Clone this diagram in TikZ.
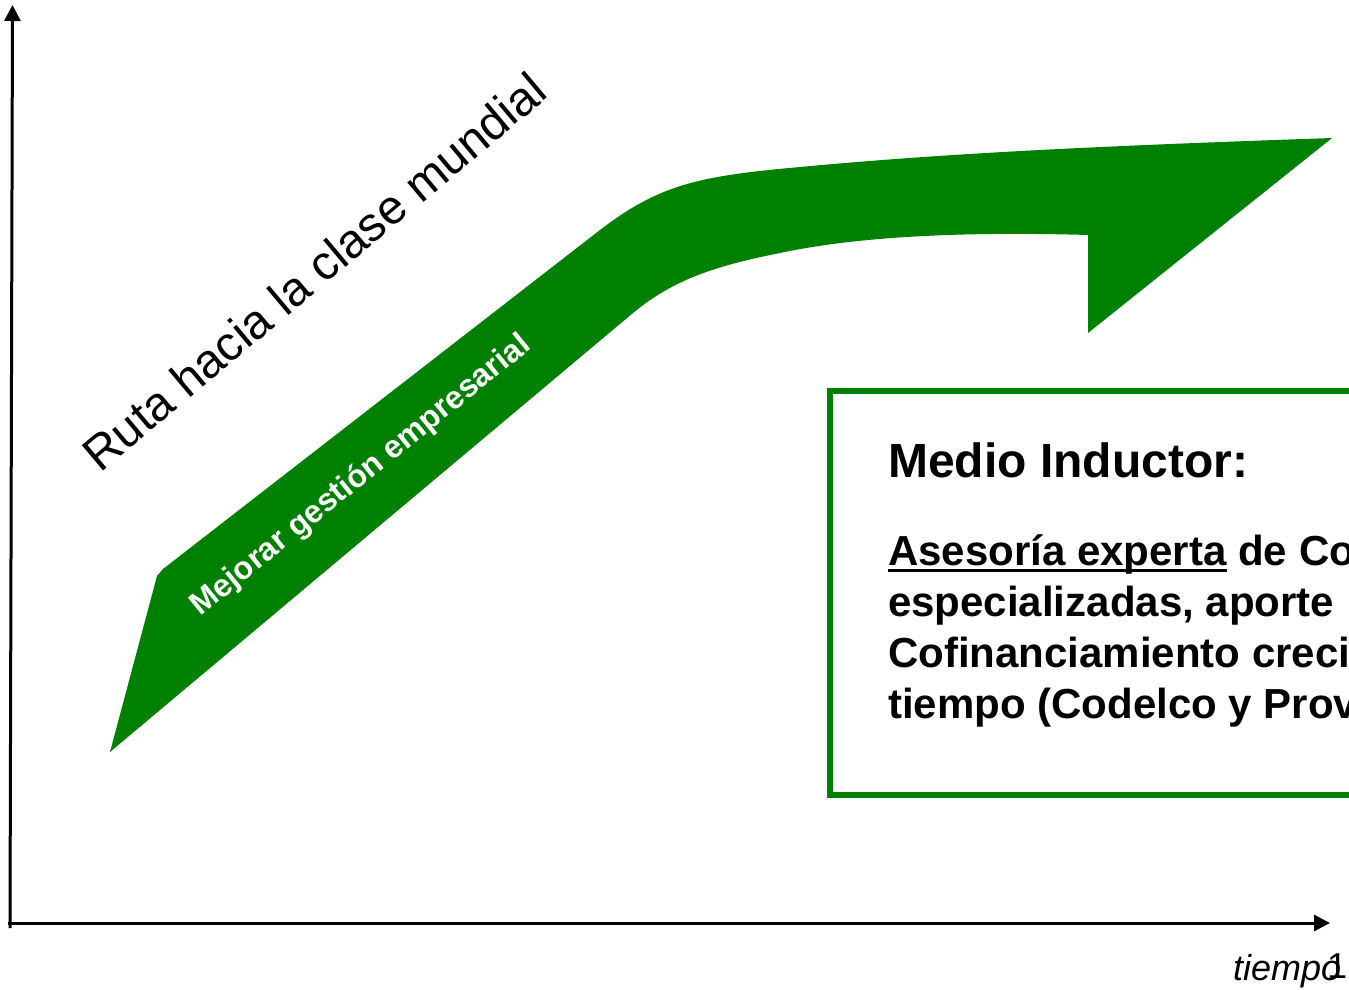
\documentclass[tikz,border=0pt]{standalone}
\usepackage{fontspec}
\setmainfont{Liberation Sans}
\usetikzlibrary{arrows.meta}
\definecolor{arrowgreen}{RGB}{0,128,0}
\newcommand\myuline[1]{\setbox0\hbox{#1}\rlap{\rule[-7pt]{\wd0}{3pt}}\box0\relax}
\begin{document}
\begin{tikzpicture}[x=1pt,y=-1pt,
  axis/.style={line width=3pt,-{Triangle[length=16pt,width=16pt]}},
  boxtext/.style={anchor=base west,inner sep=0pt,font=\bfseries\fontsize{42}{50}\selectfont},
  ]
\useasboundingbox (0,0) rectangle (1349,990);
\clip (0,0) rectangle (1349,990);
\fill[white] (0,0) rectangle (1349,990);
% axes
\coordinate (org) at (10,928);
\coordinate (ytip) at (12.5,5);
\coordinate (xstart) at (8,923);
\coordinate (xtip) at (1330,923);
\draw[axis] (org) -- (ytip);
\draw[axis] (xstart) -- (xtip);
% green arrow band
\fill[arrowgreen] (110,752) -- (157,576) -- (163,569) -- (600,230)
  .. controls (660,184) and (700,176) .. (800,167)
  .. controls (950,153) and (1100,146) .. (1332,138)
  -- (1088,333) -- (1088,235)
  .. controls (950,231) and (850,238) .. (780,253)
  .. controls (720,265) and (675,278) .. (633,313) -- cycle;
% texts
\node[rotate=40,inner sep=0pt,font=\fontsize{48}{58}\selectfont] (ruta) at (314,271.5) {Ruta hacia la clase mundial};
\node[rotate=39,inner sep=0pt,text=white,font=\bfseries\fontsize{32}{38}\selectfont] (mejorar) at (361,476) {Mejorar gestión empresarial};
% box
\node[draw=arrowgreen,line width=6pt,outer sep=0pt,minimum width=600pt,minimum height=404pt,anchor=north west,inner sep=0pt] (box) at (830,391) {};
\node[anchor=base west,inner sep=0pt,font=\bfseries\fontsize{48}{58}\selectfont] (title) at (888,477) {Medio Inductor:};
\node[boxtext] (l1) at (888,565) {\myuline{Asesoría experta} de Co};
\node[boxtext] (l2) at (888,616) {especializadas, aporte};
\node[boxtext] (l3) at (888,667) {Cofinanciamiento creci};
\node[boxtext] (l4) at (888,718) {tiempo (Codelco y Prov};
% axis label and page number
\node[anchor=base west,inner sep=0pt,font=\itshape\fontsize{36}{43}\selectfont] (tiempo) at (1233,980) {tiempo};
\node[anchor=base west,inner sep=0pt,font=\fontsize{36}{43}\selectfont] (num) at (1327,978) {1};
\end{tikzpicture}
\end{document}
